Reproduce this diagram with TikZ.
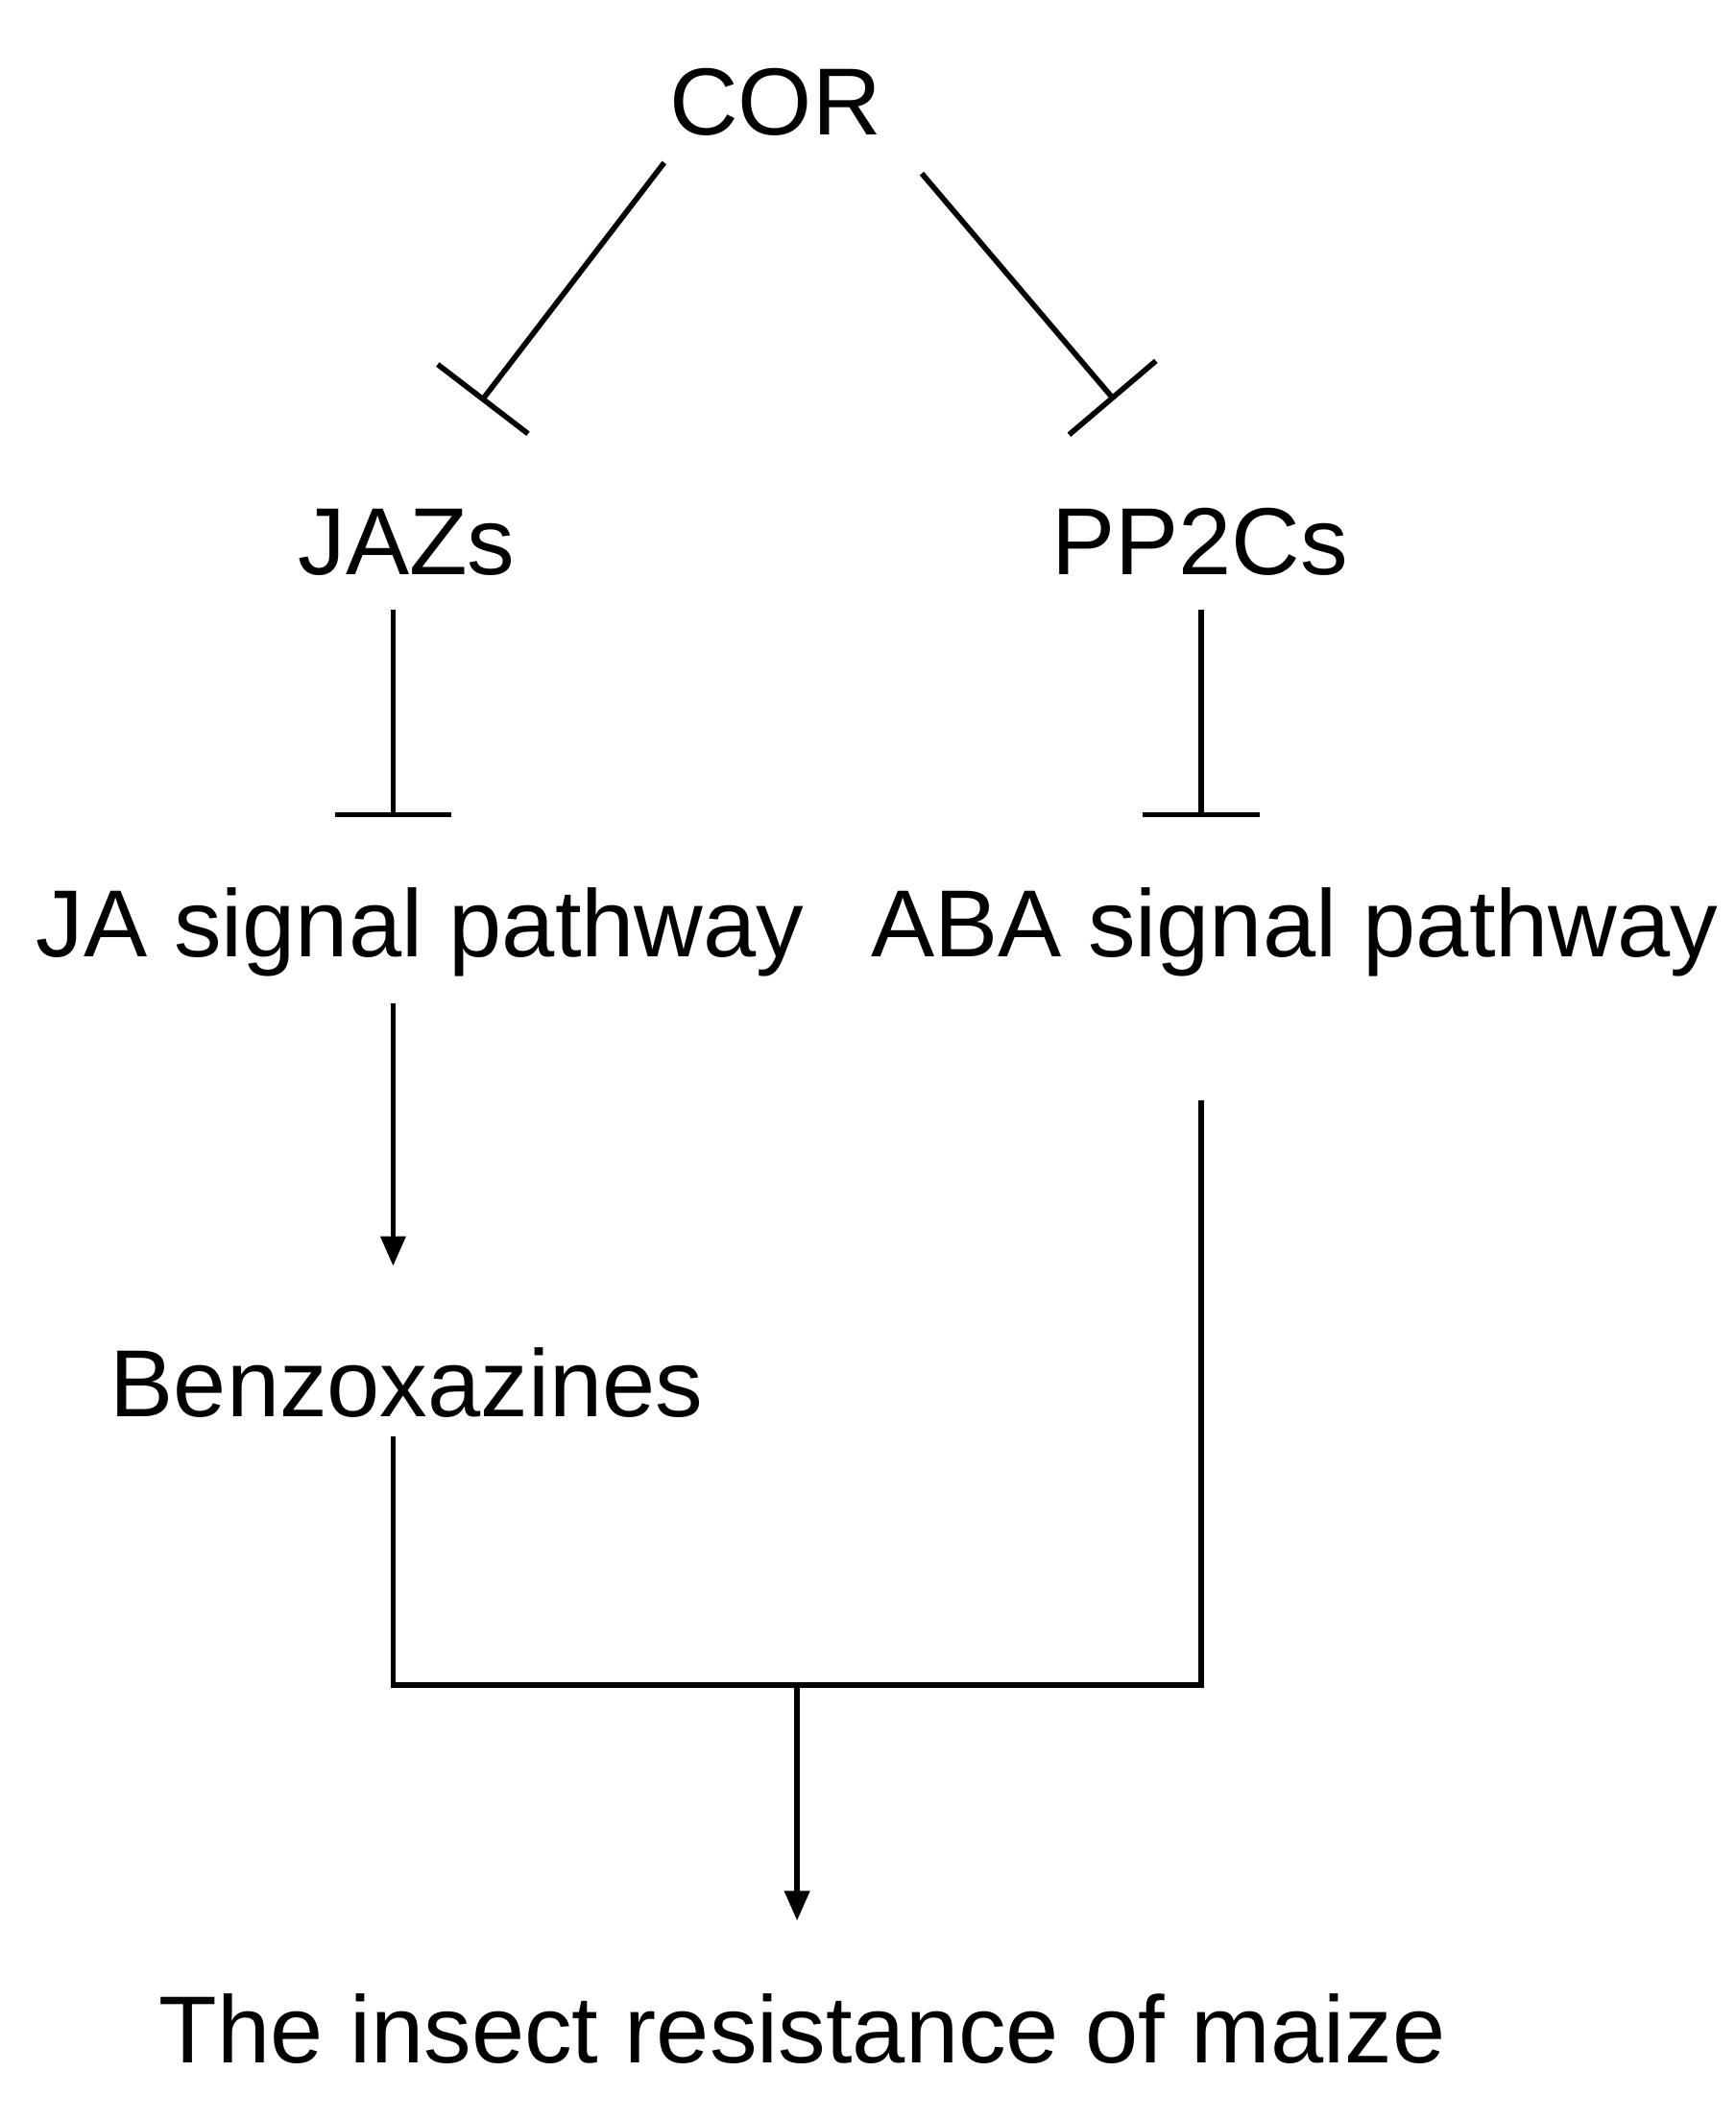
\documentclass[tikz,border=0pt]{standalone}
\usepackage{fontspec}
\setmainfont{Liberation Sans}
\usetikzlibrary{arrows.meta}
\begin{document}
\begin{tikzpicture}[x=0.02cm,y=-0.02cm,
  lbl/.style={font=\fontsize{40}{48}\selectfont,inner sep=0pt},
  ln/.style={line width=4*0.02cm},
  inh/.style={ln,-{Bar[width=#1*0.02cm,line width=4*0.02cm]}},
  act/.style={ln,-{Triangle[length=22*0.02cm,width=18*0.02cm]}}]
\useasboundingbox (0,0) rectangle (1280,1564);
\node[lbl] (cor) at (572,75) {COR};
\node[lbl] (jaz) at (300,400) {JAZs};
\node[lbl] (pp2c) at (885,400) {PP2Cs};
\node[lbl] (ja) at (310,688) {JA signal pathway};
\node[lbl] (aba) at (955,688) {ABA signal pathway};
\node[lbl] (bx) at (300,1020) {Benzoxazines};
\node[lbl] (res) at (592,1497) {The insect resistance of maize};
\coordinate (c1) at (490,120); \coordinate (c1e) at (355,296);
\coordinate (c2) at (680,128); \coordinate (c2e) at (822,295);
\coordinate (j1) at (290,450); \coordinate (j1e) at (290,603);
\coordinate (p1) at (886,450); \coordinate (p1e) at (886,603);
\coordinate (a1) at (290,740); \coordinate (a1e) at (290,934);
\coordinate (b1) at (886,812); \coordinate (b1e) at (886,1243);
\coordinate (x1) at (290,1060); \coordinate (x1e) at (290,1243);
\coordinate (m) at (588,1243); \coordinate (me) at (588,1417);
\draw[inh=84] (c1) -- (c1e);
\draw[inh=84] (c2) -- (c2e);
\draw[inh=86] (j1) -- (j1e);
\draw[inh=86] (p1) -- (p1e);
\draw[act] (a1) -- (a1e);
\draw[ln] (x1) -- (x1e) -- (b1e) -- (b1);
\draw[act] (m) -- (me);
\end{tikzpicture}
\end{document}
